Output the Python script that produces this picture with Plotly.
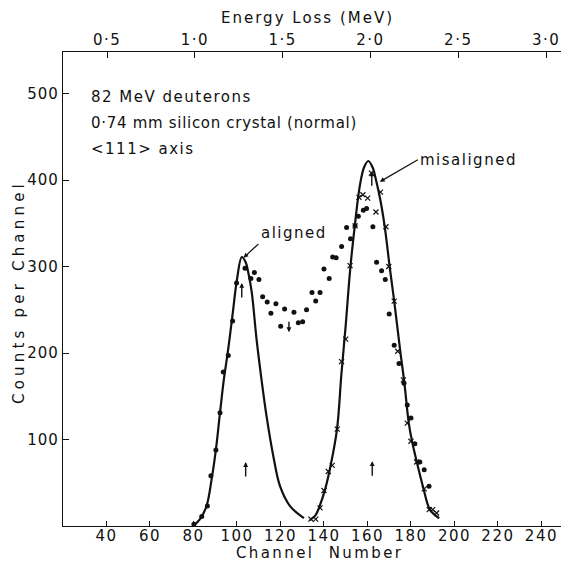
import plotly.graph_objects as go

# Fitted curves (channel, counts per channel)
aligned_fit_ch = [79.8, 83, 86, 88.4, 90.3, 92.2, 94, 96, 98, 100, 102.2, 104, 105.2, 106.8,
                  109, 111.3, 113.6, 116.7, 119.8, 124.4, 130.8]
aligned_fit_n = [0, 8, 23, 55, 88, 131, 170, 205, 245, 285, 311, 305, 293, 270,
                 216, 169, 127, 81, 46, 23, 9]

misaligned_fit_ch = [133.5, 136, 138, 140.5, 143, 146, 148, 150, 152, 154.3, 156.6, 158.5,
                     160.4, 162.3, 164.2, 166, 168, 170.3, 172.3, 175, 177, 179, 180.5,
                     182.6, 185.7, 188.7, 193]
misaligned_fit_n = [7, 12, 23, 42, 69, 112, 175, 232, 295, 350, 395, 415,
                    422, 415, 397, 376, 345, 298, 260, 204, 165, 119, 98,
                    75, 44, 19, 9]

# Measured spectra
aligned_ch = [80.2, 83.8, 86.4, 88.0, 90.3, 92.2, 93.7, 96.0, 98.0, 99.8, 103.7, 106.4,
              108.0, 110.1, 111.8, 113.9, 115.6, 117.9, 120.1, 121.9, 126.2, 128.2,
              130.2, 132.0, 134.5, 136.2, 138.2, 140.0, 142.4, 144.0, 145.6, 148.1,
              150.4, 152.2, 154.3, 155.8, 158.1, 159.6, 162.5, 164.2, 166.5, 168.2,
              170.0, 172.3, 174.5, 176.8, 178.3, 180.0, 181.8, 184.1, 186.1, 188.3]
aligned_n = [2, 11, 23, 58, 88, 131, 178, 197, 237, 281, 298, 286,
             293, 285, 265, 259, 246, 257, 231, 251, 247, 235,
             236, 250, 270, 260, 270, 297, 286, 311, 310, 323,
             345, 332, 347, 358, 365, 367, 346, 305, 295, 285,
             245, 209, 188, 165, 140, 125, 95, 74, 65, 46]

misaligned_ch = [134.0, 136.2, 138.2, 140.0, 142.0, 143.8, 146.1, 148.1, 150.0, 152.0,
                 154.3, 156.1, 157.9, 160.1, 161.8, 163.9, 166.0, 168.5, 169.8, 172.3,
                 173.9, 176.5, 178.3, 180.0, 182.6, 186.1, 188.4, 190.0, 191.8]
misaligned_n = [8, 8, 21, 41, 63, 70, 112, 190, 216, 301,
                347, 380, 383, 379, 408, 363, 386, 346, 300, 260,
                202, 169, 119, 98, 74, 43, 19, 19, 15]

# Marker arrows: (channel, tip counts, pointing up?)
marker_ch = [102.2, 104.0, 123.9, 162.2, 162.0]
marker_n = [281, 74, 224, 75, 410]
marker_up = [True, True, False, True, True]

channel_ticks = [40, 60, 80, 100, 120, 140, 160, 180, 200, 220, 240]
energy_ticks = [0.5, 1.0, 1.5, 2.0, 2.5, 3.0]
energy_labels = ["0·5", "1·0", "1·5", "2·0", "2·5", "3·0"]
count_ticks = [100, 200, 300, 400, 500]

FONT = "DejaVu Sans"
INK = "#111111"


def spaced(s, px=1.5):
    return f'<span style="letter-spacing:{px}px">{s}</span>'


fig = go.Figure()

fig.add_trace(go.Scatter(x=aligned_fit_ch, y=aligned_fit_n, mode="lines",
                         line=dict(color=INK, width=2.2, shape="spline", smoothing=1.0),
                         hoverinfo="skip", showlegend=False))
fig.add_trace(go.Scatter(x=misaligned_fit_ch, y=misaligned_fit_n, mode="lines",
                         line=dict(color=INK, width=2.2, shape="spline", smoothing=1.0),
                         hoverinfo="skip", showlegend=False))
fig.add_trace(go.Scatter(x=aligned_ch, y=aligned_n, mode="markers",
                         marker=dict(symbol="circle", size=5, color=INK),
                         showlegend=False))
fig.add_trace(go.Scatter(x=misaligned_ch, y=misaligned_n, mode="markers",
                         marker=dict(symbol="x-thin", size=5, color=INK,
                                     line=dict(color=INK, width=1.2)),
                         showlegend=False))
# invisible trace that activates the top energy axis
fig.add_trace(go.Scatter(x=[energy_ticks[0]], y=[0], xaxis="x2", mode="markers",
                         marker=dict(size=0.1, opacity=0), hoverinfo="skip",
                         showlegend=False))

annotations = []
for ch, n, up in zip(marker_ch, marker_n, marker_up):
    annotations.append(dict(x=ch, y=n, xref="x", yref="y", showarrow=True,
                            ax=0, ay=16 if up else -12, arrowhead=2, arrowsize=0.7,
                            arrowwidth=1.4, arrowcolor=INK, text=""))

# peak labels
annotations.append(dict(x=103.0, y=310, xref="x", yref="y", ax=15, ay=-14,
                        showarrow=True, arrowhead=2, arrowsize=0.8, arrowwidth=1.2,
                        arrowcolor=INK, text=spaced("aligned"), xanchor="left",
                        yanchor="bottom", font=dict(family=FONT, size=15, color=INK)))
annotations.append(dict(x=165.7, y=398, xref="x", yref="y", ax=38, ay=-22,
                        showarrow=True, arrowhead=2, arrowsize=0.8, arrowwidth=1.2,
                        arrowcolor=INK, text=spaced("misaligned"), xanchor="left",
                        yanchor="middle", font=dict(family=FONT, size=15, color=INK)))

# experiment description
desc_lines = ["82 MeV deuterons", "0·74 mm silicon crystal (normal)", "&lt;111&gt; axis"]
desc_spacing = [1.5, 0.7, 1.5]
for i, (line, sp) in enumerate(zip(desc_lines, desc_spacing)):
    annotations.append(dict(x=0.053, y=0.905 - i * 0.055, xref="paper", yref="paper",
                            text=spaced(line, sp), showarrow=False, xanchor="left",
                            yanchor="middle", font=dict(family=FONT, size=15, color=INK)))

# axis titles
annotations.append(dict(x=0.516, y=-0.057, xref="paper", yref="paper",
                        text=spaced("Channel  Number", 2.4), showarrow=False,
                        xanchor="center", yanchor="middle",
                        font=dict(family=FONT, size=15, color=INK)))
annotations.append(dict(x=0.49, y=1.072, xref="paper", yref="paper",
                        text=spaced("Energy Loss (MeV)", 2), showarrow=False,
                        xanchor="center", yanchor="middle",
                        font=dict(family=FONT, size=15, color=INK)))
annotations.append(dict(x=-0.088, y=0.494, xref="paper", yref="paper",
                        text=spaced("Counts per Channel", 4.2), showarrow=False,
                        textangle=-90, xanchor="center", yanchor="middle",
                        font=dict(family=FONT, size=15, color=INK)))

axis_font = dict(family=FONT, size=15, color=INK)

fig.update_layout(
    width=561, height=562,
    margin=dict(l=63, r=0, t=52, b=36),
    paper_bgcolor="white", plot_bgcolor="white",
    showlegend=False,
    annotations=annotations,
    xaxis=dict(range=[20, 249], tickmode="array", tickvals=channel_ticks,
               ticktext=[spaced(str(v)) for v in channel_ticks],
               ticks="inside", ticklen=5, tickwidth=1.3, tickcolor=INK,
               showline=True, linecolor=INK, linewidth=1.4, showgrid=False,
               zeroline=False, tickfont=axis_font, ticklabelstandoff=-4),
    xaxis2=dict(range=[0.249, 3.085], overlaying="x", side="top", anchor="y",
                tickmode="array", tickvals=energy_ticks,
                ticktext=[spaced(t) for t in energy_labels],
                ticks="inside", ticklen=6, tickwidth=1.3, tickcolor=INK,
                showline=True, linecolor=INK, linewidth=1.4, showgrid=False,
                zeroline=False, tickfont=axis_font),
    yaxis=dict(range=[0, 548], tickmode="array", tickvals=count_ticks,
               ticktext=[spaced(str(v), 1) for v in count_ticks],
               ticks="inside", ticklen=6, tickwidth=1.3, tickcolor=INK,
               showline=True, linecolor=INK, linewidth=1.4, showgrid=False,
               zeroline=False, tickfont=axis_font),
)

fig.write_html("out.html")
